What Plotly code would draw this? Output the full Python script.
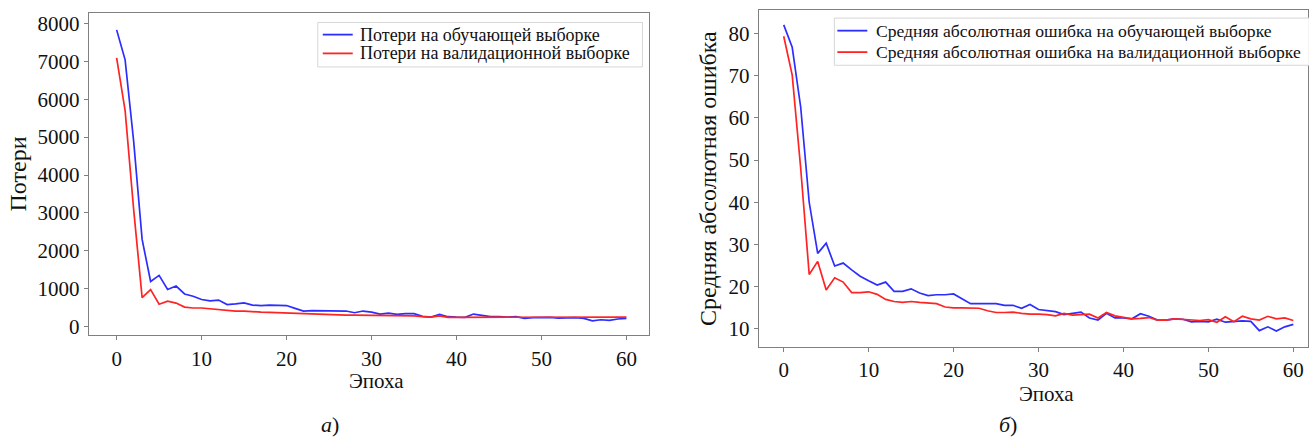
import plotly.graph_objects as go

epochs = list(range(61))

train_loss = [7830, 7040, 4900, 2300, 1190, 1350, 980, 1070, 860, 800,
              715, 680, 700, 580, 600, 625, 565, 555, 565, 555,
              555, 480, 410, 420, 420, 420, 420, 410, 365, 410,
              380, 330, 355, 320, 340, 340, 270, 250, 320, 260,
              250, 245, 330, 305, 260, 260, 250, 260, 215, 235,
              235, 245, 225, 225, 235, 215, 150, 180, 165, 200, 215]
val_loss = [7090, 5700, 3100, 765, 975, 590, 670, 620, 515, 490,
            490, 470, 435, 420, 410, 410, 390, 380, 375, 365,
            355, 350, 340, 330, 320, 305, 300, 300, 300, 300,
            300, 280, 280, 280, 280, 280, 260, 250, 280, 245,
            245, 245, 245, 245, 245, 245, 245, 245, 245, 245,
            245, 245, 245, 245, 245, 245, 250, 260, 250, 250, 250]
train_mae = [82.0, 76.7, 62.5, 40.0, 27.9, 30.3, 24.9, 25.6, 24.0, 22.5,
             21.4, 20.4, 21.1, 18.9, 18.9, 19.5, 18.5, 17.9, 18.1, 18.1,
             18.3, 17.1, 16.0, 16.0, 16.0, 16.0, 15.6, 15.6, 14.9, 15.8,
             14.6, 14.3, 14.1, 13.4, 13.7, 14.0, 12.6, 12.1, 13.7, 12.6,
             12.6, 12.4, 13.6, 13.0, 12.1, 12.1, 12.4, 12.3, 11.7, 11.8,
             11.7, 12.3, 11.6, 11.7, 11.9, 11.8, 9.6, 10.5, 9.5, 10.5, 11.1]
val_mae = [79.3, 70.1, 48.0, 22.9, 26.0, 19.2, 22.1, 21.1, 18.6, 18.6,
           18.8, 18.2, 17.0, 16.5, 16.3, 16.5, 16.3, 16.2, 16.0, 15.2,
           15.0, 15.0, 14.9, 14.9, 14.3, 13.9, 13.9, 14.0, 13.7, 13.5,
           13.5, 13.4, 13.1, 13.7, 13.3, 13.4, 13.5, 12.6, 13.9, 13.1,
           12.7, 12.4, 12.5, 12.7, 12.1, 12.1, 12.4, 12.3, 12.1, 12.0,
           12.2, 11.6, 12.9, 11.7, 13.0, 12.4, 12.1, 13.0, 12.4, 12.6, 12.0]

loss_ticks = [0, 1000, 2000, 3000, 4000, 5000, 6000, 7000, 8000]
mae_ticks = [10, 20, 30, 40, 50, 60, 70, 80]
x_ticks = [0, 10, 20, 30, 40, 50, 60]

names_loss = ["Потери на обучающей выборке", "Потери на валидационной выборке"]
names_mae = ["Средняя абсолютная ошибка на обучающей выборке",
             "Средняя абсолютная ошибка на валидационной выборке"]

BLUE = "rgb(45,45,255)"
RED = "rgb(255,35,35)"
FONT = "Liberation Serif, Times New Roman, serif"
W, H = 1309, 441

fig = go.Figure()
fig.add_trace(go.Scatter(x=epochs, y=train_loss, mode="lines", name=names_loss[0],
                         line=dict(color=BLUE, width=1.7), xaxis="x", yaxis="y"))
fig.add_trace(go.Scatter(x=epochs, y=val_loss, mode="lines", name=names_loss[1],
                         line=dict(color=RED, width=1.7), xaxis="x", yaxis="y"))
fig.add_trace(go.Scatter(x=epochs, y=train_mae, mode="lines", name=names_mae[0],
                         line=dict(color=BLUE, width=1.7), xaxis="x2", yaxis="y2"))
fig.add_trace(go.Scatter(x=epochs, y=val_mae, mode="lines", name=names_mae[1],
                         line=dict(color=RED, width=1.7), xaxis="x2", yaxis="y2"))


def px_x(p):
    return p / W


def px_y(p):
    return 1 - p / H


axis_common = dict(showgrid=False, zeroline=False, showline=True, linecolor="#808080",
                   linewidth=1.3, mirror=True, ticks="outside", ticklen=4, tickcolor="#808080",
                   tickwidth=1, tickfont=dict(family=FONT, size=21, color="#111"))

fig.update_layout(
    width=W, height=H,
    margin=dict(l=0, r=0, t=0, b=0),
    paper_bgcolor="white", plot_bgcolor="white",
    font=dict(family=FONT, color="#111"),
    showlegend=False,
    xaxis=dict(domain=[px_x(89), px_x(649)], range=[-3.26, 62.6], tickvals=x_ticks,
               anchor="y", **axis_common),
    yaxis=dict(domain=[px_y(338), px_y(12)], range=[-227, 8279], tickvals=loss_ticks,
               anchor="x",
               title=dict(text="Потери", standoff=4, font=dict(family=FONT, size=24, color="#111")),
               **axis_common),
    xaxis2=dict(domain=[px_x(759.5), 1.0], range=[-2.92, 61.73], tickvals=x_ticks,
                anchor="y2", **axis_common),
    yaxis2=dict(domain=[px_y(350), px_y(9.3)], range=[5.72, 85.48], tickvals=mae_ticks,
                anchor="x2",
                title=dict(text="Средняя абсолютная ошибка", standoff=5,
                           font=dict(family=FONT, size=24, color="#111")),
                **axis_common),
)

# manual legends (box, handles, labels)
legends = [
    dict(box=(318, 21.7, 643, 66.7), hx=(323, 353), tx=358, rows=(34, 53), names=names_loss, size=18),
    dict(box=(835, 17.3, 1330, 65), hx=(838, 868), tx=875, rows=(30, 51.7), names=names_mae, size=17.6),
]
for lg in legends:
    x0, y0, x1, y1 = lg["box"]
    fig.add_shape(type="rect", xref="paper", yref="paper",
                  x0=px_x(x0), x1=px_x(x1), y0=px_y(y1), y1=px_y(y0),
                  line=dict(color="#d6d6d6", width=1), fillcolor="rgba(255,255,255,0.9)",
                  layer="above")
    for name, ry, col in zip(lg["names"], lg["rows"], [BLUE, RED]):
        fig.add_shape(type="line", xref="paper", yref="paper",
                      x0=px_x(lg["hx"][0]), x1=px_x(lg["hx"][1]), y0=px_y(ry), y1=px_y(ry),
                      line=dict(color=col, width=1.8), layer="above")
        fig.add_annotation(text=name, x=px_x(lg["tx"]), y=px_y(ry), xref="paper", yref="paper",
                           xanchor="left", yanchor="middle", showarrow=False,
                           font=dict(family=FONT, size=lg["size"], color="#111"))

annots = [
    dict(text="Эпоха", x=377, y=384, size=21),
    dict(text="Эпоха", x=1047, y=398, size=21),
    dict(text="<i>а</i>)", x=330, y=428, size=22),
    dict(text="<i>б</i>)", x=1009, y=428, size=22),
]
for a in annots:
    fig.add_annotation(text=a["text"], x=px_x(a["x"]), y=px_y(a["y"]), xref="paper", yref="paper",
                       xanchor="center", yanchor="middle",
                       showarrow=False, font=dict(family=FONT, size=a["size"], color="#111"))

fig.write_html("out.html", config={"displayModeBar": False},
               post_script="document.body.style.margin='0';document.body.style.overflow='hidden';")
